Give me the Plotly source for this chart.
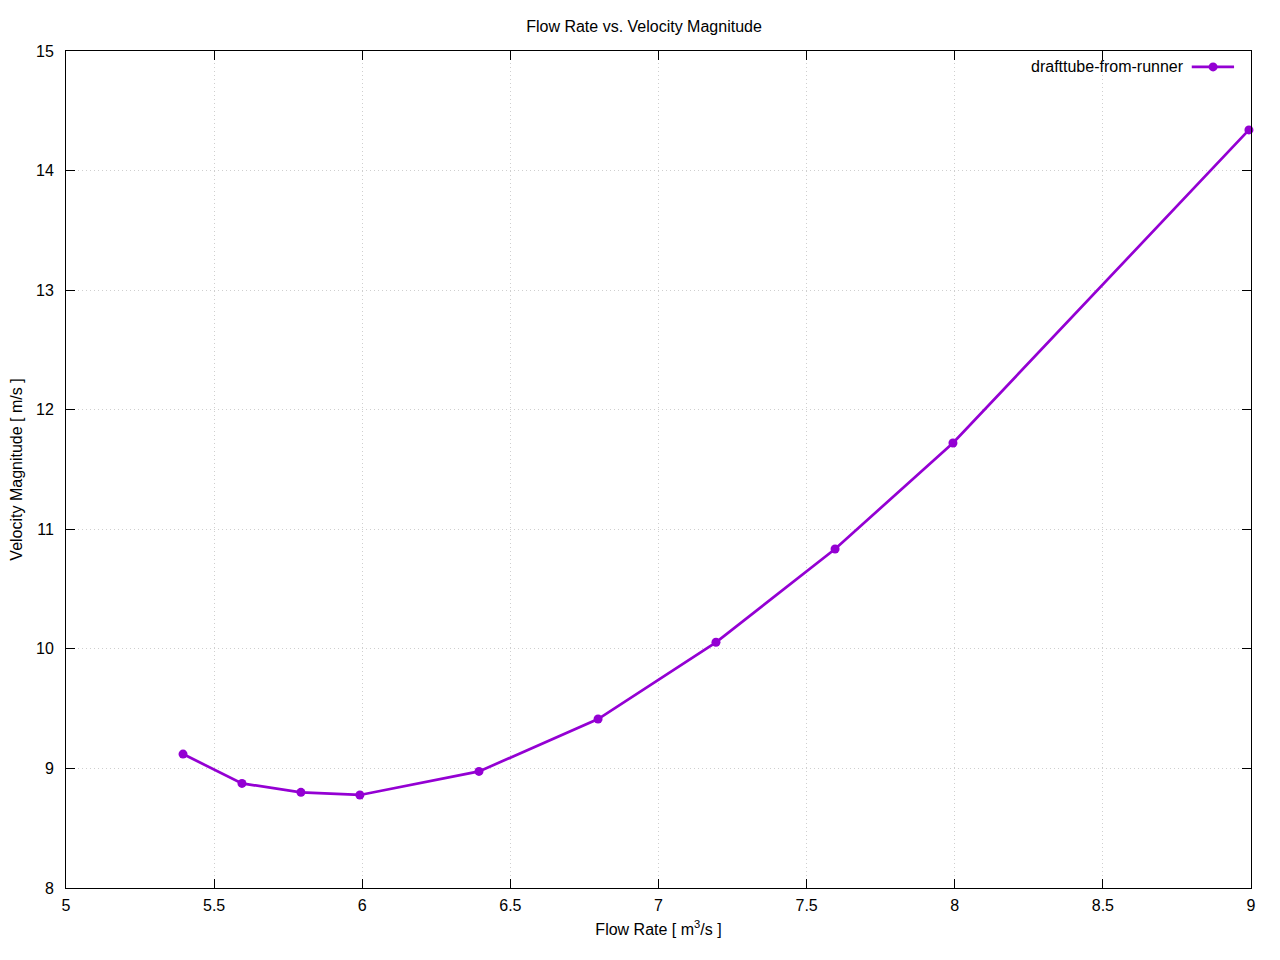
import plotly.graph_objects as go

flow_rate = [5.395, 5.594, 5.793, 5.992, 6.394, 6.796, 7.194, 7.596, 7.994, 8.993]
velocity = [9.12, 8.875, 8.80, 8.778, 8.975, 9.413, 10.055, 10.835, 11.722, 14.34]
series_name = "drafttube-from-runner"
x_ticks = [5, 5.5, 6, 6.5, 7, 7.5, 8, 8.5, 9]
x_tick_labels = ["5", "5.5", "6", "6.5", "7", "7.5", "8", "8.5", "9"]
y_ticks = [8, 9, 10, 11, 12, 13, 14, 15]

color = "#9400D3"
font = "Liberation Sans, Arial, sans-serif"
fs = 16

fig = go.Figure()
fig.add_trace(go.Scatter(
    x=flow_rate, y=velocity, mode="lines+markers", name=series_name,
    line=dict(color=color, width=2.7),
    marker=dict(color=color, size=9),
    cliponaxis=False, showlegend=False,
))

axis_common = dict(
    showline=True, linecolor="black", linewidth=1, mirror="allticks",
    ticks="inside", ticklen=9, tickwidth=1, tickcolor="black",
    showgrid=True, gridcolor="#cfcfcf", griddash="1px,3px", gridwidth=1,
    zeroline=False, tickfont=dict(family=font, size=fs, color="black"),
    automargin=False,
)

fig.update_xaxes(range=[5, 9], tickvals=x_ticks, ticktext=x_tick_labels, ticklabelstandoff=3,
                 title=dict(text="Flow Rate [ m<sup>3</sup>/s ]", font=dict(family=font, size=fs, color="black"), standoff=10),
                 **axis_common)
fig.update_yaxes(range=[8, 15], tickvals=y_ticks, ticklabelstandoff=8,
                 title=dict(text="Velocity Magnitude [ m/s ]", font=dict(family=font, size=fs, color="black"), standoff=12),
                 **axis_common)

# manual legend (text left, sample right, like gnuplot)
fig.add_annotation(xref="paper", yref="paper", x=0.9452, y=0.981, text=series_name,
                   showarrow=False, xanchor="right", yanchor="middle",
                   font=dict(family=font, size=fs, color="black"))
fig.add_shape(type="line", xref="paper", yref="paper", x0=0.950, x1=0.9857, y0=0.981, y1=0.981,
              line=dict(color=color, width=2.7))
fig.add_shape(type="circle", xref="paper", yref="paper", xsizemode="pixel", ysizemode="pixel",
              xanchor=0.968, yanchor=0.981, x0=-4.5, x1=4.5, y0=-4.5, y1=4.5,
              fillcolor=color, line=dict(color=color, width=0))

# page body has an 8px margin, so the figure is offset by 8px
fig.update_layout(
    width=1272, height=952,
    margin=dict(l=58, r=29, t=43, b=72),
    paper_bgcolor="white", plot_bgcolor="white",
    title=dict(text="Flow Rate vs. Velocity Magnitude", x=0.5, xanchor="center",
               y=1 - 18 / 952, yanchor="middle",
               font=dict(family=font, size=fs, color="black")),
    font=dict(family=font, size=fs, color="black"),
)

fig.write_html("out.html")
